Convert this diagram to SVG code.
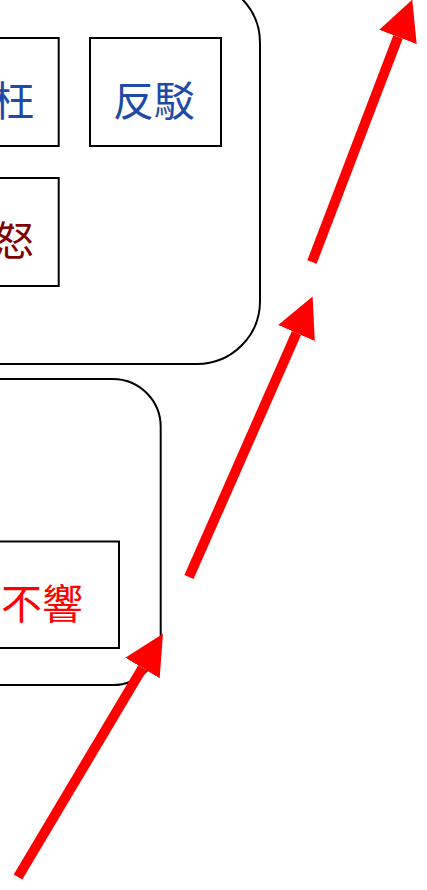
<svg xmlns="http://www.w3.org/2000/svg" width="427" height="890" viewBox="0 0 427 890">
  <style>
    .group { fill: none; stroke: #000; stroke-width: 2; }
    .box { fill: #fff; stroke: #000; stroke-width: 2; }
    .lbl { font-family: "Noto Sans CJK TC", "Noto Sans CJK SC", sans-serif; font-size: 41px; dominant-baseline: central; }
    .blue { fill: #1f4aa8; }
    .dred { fill: #800000; }
    .red { fill: #ff0000; }
    .arrow { stroke: #ff0000; stroke-width: 10; fill: none; stroke-linecap: butt; }
  </style>
  <defs>
    <marker id="head" markerUnits="userSpaceOnUse" markerWidth="40" markerHeight="40" viewBox="0 0 36 36" refX="0" refY="18" orient="auto">
      <path d="M0,0 L36,18 L0,36 Z" fill="#ff0000"/>
    </marker>
  </defs>
  <rect width="427" height="890" fill="#fff"/>

  <g id="group-top">
    <rect class="group" x="-200" y="-20" width="460" height="384" rx="63" ry="63"/>
  </g>
  <g id="group-bottom">
    <rect class="group" x="-200" y="379" width="360.7" height="306" rx="48" ry="48"/>
  </g>

  <g id="node-wang">
    <rect class="box" x="-72" y="38" width="130.7" height="108"/>
    <text class="lbl blue" x="34" y="97.5" text-anchor="end">枉</text>
  </g>
  <g id="node-fanbo">
    <rect class="box" x="90" y="38" width="131" height="108"/>
    <text class="lbl blue" x="154" y="97.5" text-anchor="middle">反駁</text>
  </g>
  <g id="node-nu">
    <rect class="box" x="-72" y="178" width="130.7" height="108"/>
    <text class="lbl dred" x="34" y="238" text-anchor="end">怒</text>
  </g>
  <g id="node-buxiang">
    <rect class="box" x="-12" y="541.5" width="131" height="106.5"/>
    <text class="lbl red" x="83" y="601" text-anchor="end">不響</text>
  </g>

  <g id="connectors">
    <line class="arrow" x1="18" y1="877" x2="142.5" y2="668" marker-end="url(#head)"/>
    <line class="arrow" x1="189" y1="577" x2="296.5" y2="333" marker-end="url(#head)"/>
    <line class="arrow" x1="312" y1="262" x2="398" y2="37" marker-end="url(#head)"/>
  </g>
</svg>
